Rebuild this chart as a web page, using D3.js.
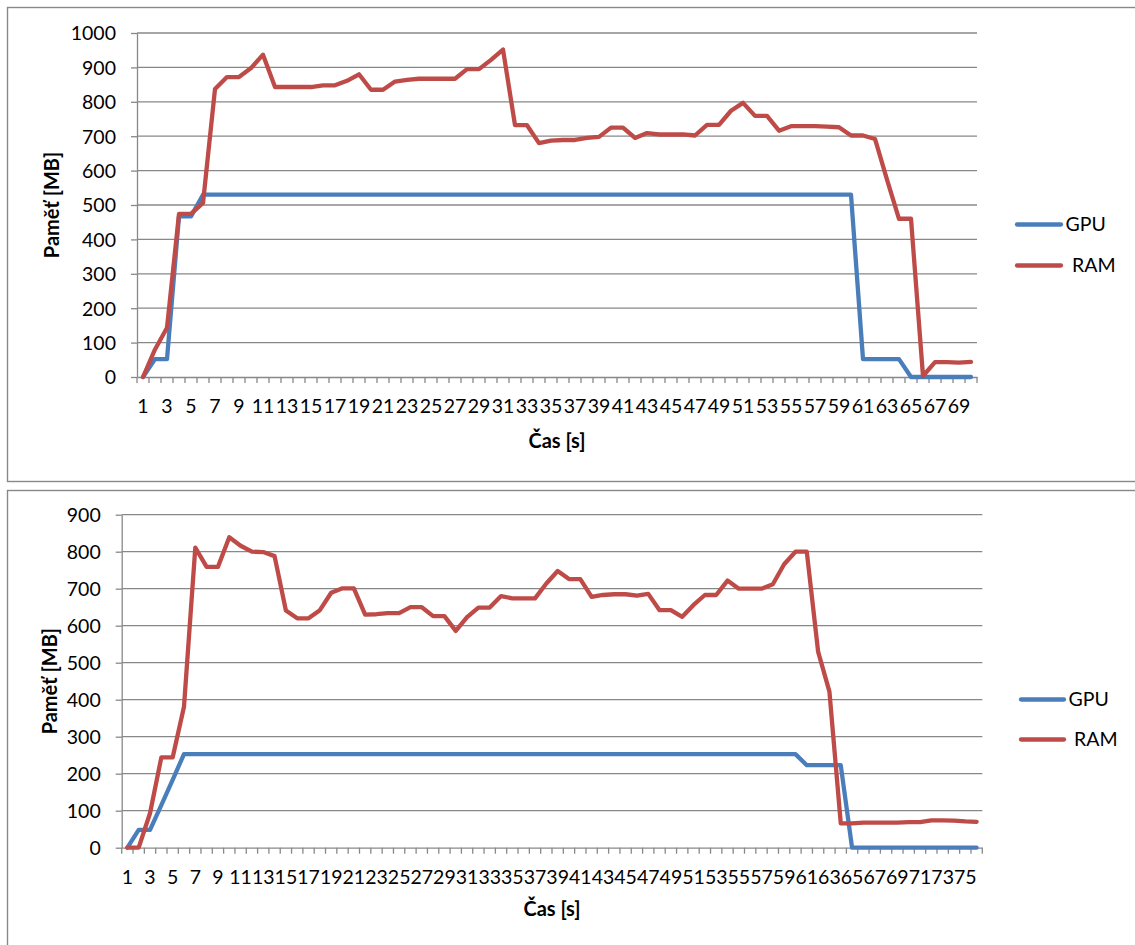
<!DOCTYPE html>
<html><head><meta charset="utf-8">
<script src="https://cdn.jsdelivr.net/npm/d3@7"></script>
<style>
body{margin:0;background:#fff}
svg text{font-family:Lato, "Open Sans", sans-serif}
</style>
</head><body>
<svg id="c" width="1135" height="945"></svg>
<script>
// ---------- data: chart 1 ----------
const categoriesA = [1,2,3,4,5,6,7,8,9,10,11,12,13,14,15,16,17,18,19,20,21,22,23,24,25,26,27,28,29,30,
  31,32,33,34,35,36,37,38,39,40,41,42,43,44,45,46,47,48,49,50,51,52,53,54,55,56,57,58,59,60,
  61,62,63,64,65,66,67,68,69,70];
const gpuA = [0,52,52,467,467,530,530,530,530,530,530,530,530,530,530,530,530,530,530,530,
  530,530,530,530,530,530,530,530,530,530,530,530,530,530,530,530,530,530,530,530,
  530,530,530,530,530,530,530,530,530,530,530,530,530,530,530,530,530,530,530,530,
  52,52,52,52,0,0,0,0,0,0];
const ramA = [0,80,143,474,474,506,837,872,872,898,937,843,843,843,843,848,848,861,880,835,
  835,859,864,867,867,867,867,895,895,922,952,732,732,680,687,689,689,695,698,725,
  725,695,709,705,705,705,702,733,733,774,797,759,759,716,729,729,729,728,726,702,
  702,692,574,460,460,3,43,43,42,44];
const yTicksA = [0,100,200,300,400,500,600,700,800,900,1000];

// ---------- data: chart 2 ----------
const categoriesB = [1,2,3,4,5,6,7,8,9,10,11,12,13,14,15,16,17,18,19,20,21,22,23,24,25,26,27,28,29,30,
  31,32,33,34,35,36,37,38,39,40,41,42,43,44,45,46,47,48,49,50,51,52,53,54,55,56,57,58,59,60,
  61,62,63,64,65,66,67,68,69,70,71,72,73,74,75,76];
const gpuB = [0,48,48,115,183,253,253,253,253,253,253,253,253,253,253,253,253,253,253,253,
  253,253,253,253,253,253,253,253,253,253,253,253,253,253,253,253,253,253,253,253,
  253,253,253,253,253,253,253,253,253,253,253,253,253,253,253,253,253,253,253,253,
  223,223,223,223,0,0,0,0,0,0,0,0,0,0,0,0];
const ramB = [0,0,93,244,244,381,811,759,759,839,816,800,799,788,641,620,620,642,689,701,
  701,630,631,634,634,650,650,626,626,586,623,649,649,680,674,674,674,714,748,726,
  726,678,683,685,685,681,686,642,642,624,656,683,683,722,700,700,700,712,766,800,
  800,530,422,66,66,68,68,68,68,69,69,74,74,73,71,70];
const yTicksB = [0,100,200,300,400,500,600,700,800,900];

const seriesNames = ["GPU", "RAM"];
const xTitle = "Čas [s]";
const yTitle = "Paměť [MB]";

const colors = {GPU: "#4a7ebb", RAM: "#be4b48"};
const gridColor = "#888888";
const labelSize = "19.5px";
const titleSize = "20px";

const svg = d3.select("#c");

function drawChart(o) {
  const g = svg.append("g");
  g.append("rect")
    .attr("x", o.frame[0]).attr("y", o.frame[1])
    .attr("width", o.frame[2]).attr("height", o.frame[3])
    .attr("fill", "#fff").attr("stroke", gridColor).attr("stroke-width", 1.4);

  const x = d3.scaleBand().domain(o.categories).range([o.left, o.right]);
  const y = d3.scaleLinear().domain([0, d3.max(o.yTicks)]).range([o.bottom, o.top]);
  const bw = x.bandwidth();

  // gridlines
  g.append("g").selectAll("line").data(o.yTicks.filter(v => v > 0)).join("line")
    .attr("x1", o.left).attr("x2", o.right)
    .attr("y1", d => y(d)).attr("y2", d => y(d))
    .attr("stroke", gridColor).attr("stroke-width", 1.3);

  // y axis
  const ya = g.append("g").attr("transform", `translate(${o.left},0)`)
    .call(d3.axisLeft(y).tickValues(o.yTicks).tickSize(6).tickSizeOuter(0).tickPadding(15).tickFormat(d3.format("d")));
  ya.attr("font-family", null).attr("font-size", null);
  ya.select(".domain").attr("stroke", gridColor).attr("stroke-width", 1.3);
  ya.selectAll(".tick line").attr("stroke", gridColor).attr("stroke-width", 1.3);
  ya.selectAll(".tick text").attr("font-size", labelSize).attr("fill", "#000").attr("dy", "0.35em");

  // x axis (labels)
  const xa = g.append("g").attr("transform", `translate(0,${o.bottom})`)
    .call(d3.axisBottom(x).tickSize(0).tickSizeOuter(0).tickPadding(o.xPad)
      .tickFormat((d, i) => i % 2 === 0 ? d : ""));
  xa.attr("font-family", null).attr("font-size", null);
  xa.select(".domain").attr("stroke", gridColor).attr("stroke-width", 1.3);
  xa.selectAll(".tick text").attr("font-size", labelSize).attr("fill", "#000");

  // x tick marks at category boundaries
  const edges = o.categories.map(c => x(c)).concat([x(o.categories[o.categories.length - 1]) + bw]);
  g.append("g").selectAll("line").data(edges).join("line")
    .attr("x1", d => d).attr("x2", d => d)
    .attr("y1", o.bottom).attr("y2", o.bottom + 6)
    .attr("stroke", gridColor).attr("stroke-width", 1.3);

  // series lines
  const series = [{name: "GPU", values: o.gpu}, {name: "RAM", values: o.ram}];
  const line = d3.line()
    .x((d, i) => x(o.categories[i]) + bw / 2)
    .y(d => y(d));
  g.append("g").selectAll("path").data(series).join("path")
    .attr("d", s => line(s.values))
    .attr("fill", "none")
    .attr("stroke", s => colors[s.name])
    .attr("stroke-width", 4.3)
    .attr("stroke-linejoin", "round")
    .attr("stroke-linecap", "round");

  // axis titles
  g.append("text")
    .attr("x", (o.left + o.right) / 2).attr("y", o.xTitleY)
    .attr("text-anchor", "middle").attr("font-weight", "bold").attr("font-size", titleSize)
    .text(xTitle);
  g.append("text")
    .attr("transform", `translate(${o.yTitleX},${(o.top + o.bottom) / 2}) rotate(-90)`)
    .attr("text-anchor", "middle").attr("font-weight", "bold").attr("font-size", titleSize)
    .text(yTitle);

  // legend
  const lg = g.append("g").selectAll("g").data(seriesNames).join("g");
  lg.append("line")
    .attr("x1", o.leg.x1).attr("x2", o.leg.x2)
    .attr("y1", (d, i) => o.leg.y[i]).attr("y2", (d, i) => o.leg.y[i])
    .attr("stroke", d => colors[d]).attr("stroke-width", 4.3).attr("stroke-linecap", "round");
  lg.append("text")
    .attr("x", (d, i) => o.leg.tx[i])
    .attr("y", (d, i) => o.leg.y[i] + 6.8)
    .attr("font-size", labelSize)
    .text(d => d);
}

drawChart({
  frame: [7.5, 7.5, 1140, 474],
  categories: categoriesA, gpu: gpuA, ram: ramA, yTicks: yTicksA,
  left: 137, right: 977, top: 33, bottom: 377,
  xPad: 22, xTitleY: 448, yTitleX: 58.5,
  leg: {x1: 1017, x2: 1061, y: [224.5, 265.5], tx: [1065.5, 1072]}
});
drawChart({
  frame: [7.5, 490.5, 1140, 470],
  categories: categoriesB, gpu: gpuB, ram: ramB, yTicks: yTicksB,
  left: 121.7, right: 982.3, top: 514.7, bottom: 847.7,
  xPad: 22, xTitleY: 916, yTitleX: 57,
  leg: {x1: 1021, x2: 1064, y: [699.5, 739.5], tx: [1068.5, 1074]}
});
</script>
</body></html>
